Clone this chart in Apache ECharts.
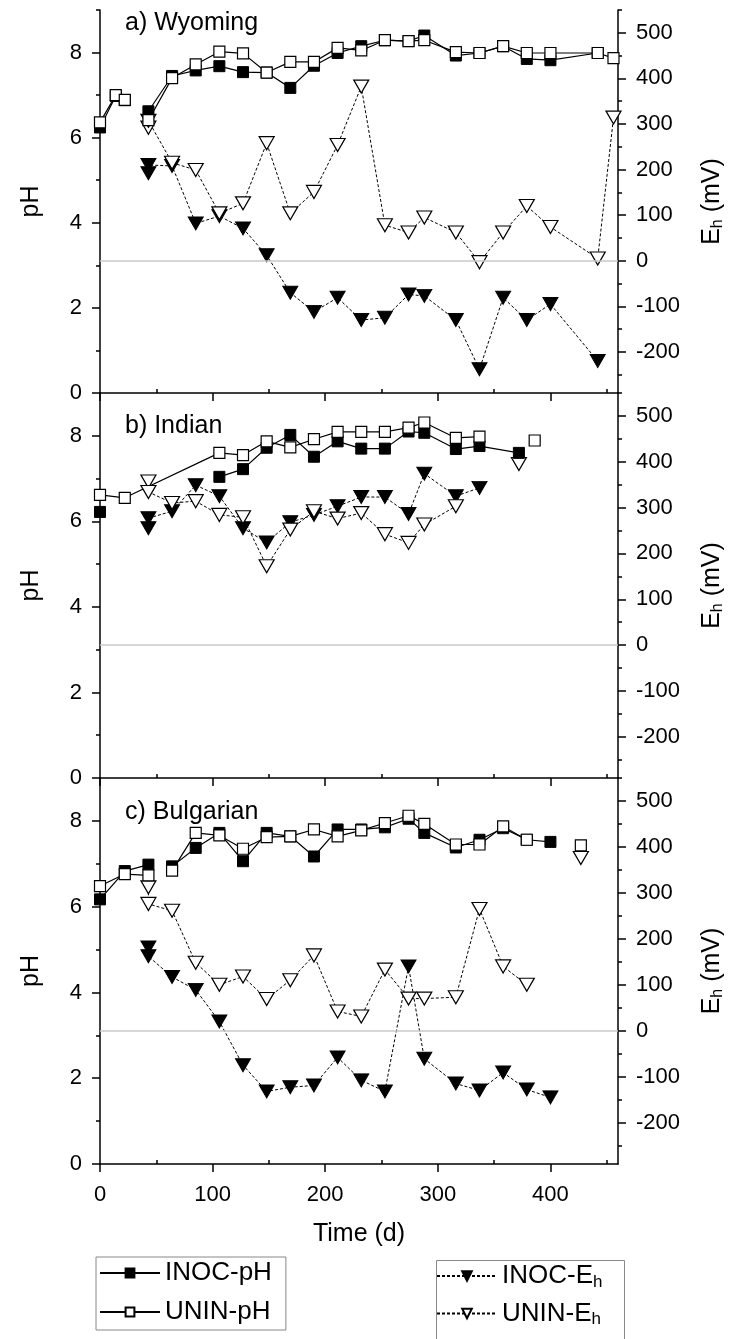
<!DOCTYPE html>
<html>
<head>
<meta charset="utf-8">
<title>pH and Eh</title>
<script src="https://cdn.jsdelivr.net/npm/echarts@6/dist/echarts.min.js"></script>
<style>
  body { margin: 0; padding: 0; background: #fff; }
  #main { width: 734px; height: 1339px; }
</style>
</head>
<body>
<div id="main"></div>
<script>
// ---- data (day, value); null day = break in the line ----
// a) Wyoming
var wyPhDays   = [0, 14, 22, null, 43, 64, 85, 106, 127, 148, 169, 190, 211, 232, 253, 274, 288, 316, 337, 358, 379, 400, 442, 456];
var wyInocPh   = [6.24, 6.98, 6.88, null, 6.62, 7.45, 7.58, 7.68, 7.54, 7.53, 7.17, 7.69, 7.99, 8.15, 8.29, 8.27, 8.40, 7.93, 7.99, 8.15, 7.85, 7.82, 7.99, null];
var wyUninPh   = [6.36, 7.00, 6.89, null, 6.41, 7.40, 7.72, 8.02, 7.98, 7.53, 7.78, 7.78, 8.11, 8.05, 8.29, 8.27, 8.29, 8.01, 7.99, 8.15, 7.99, 7.99, 7.99, 7.87];
var wyEhDays   = [43, 43, 64, 85, 106, 127, 148, 169, 190, 211, 232, 253, 274, 288, 316, 337, 358, 379, 400, 442, 456];
var wyInocEh   = [192, 210, 208, 82, 98, 71, 12, -70, -112, -81, -130, -125, -74, -77, -130, -238, -81, -130, -95, -220, null];
var wyUninEh   = [292, 307, 215, 199, 104, 126, 258, 104, 151, 254, 382, 78, 62, 95, 62, -3, 62, 120, 74, 5, 314];

// b) Indian
var inPhDays   = [0, 22, 106, 127, 148, 169, 190, 211, 232, 253, 274, 288, 316, 337, 372, 386];
var inInocPh   = [6.22, null, 7.04, 7.22, 7.72, 8.02, 7.51, 7.87, 7.70, 7.70, 8.10, 8.07, 7.69, 7.76, 7.60, null];
var inUninPh   = [6.62, 6.55, 7.60, 7.55, 7.87, 7.73, 7.92, 8.09, 8.09, 8.09, 8.19, 8.31, 7.95, 7.98, null, 7.89];
var inEhDays   = [43, 43, 64, 85, 106, 127, 148, 169, 190, 211, 232, 253, 274, 288, 316, 337, 372];
var inInocEh   = [255, 277, 292, 349, 325, 255, 224, 268, 284, 303, 323, 323, 286, 374, 325, 343, null];
var inUninEh   = [357, 334, 310, 314, 284, 279, 172, 252, 292, 276, 288, 242, 223, 263, 303, null, 395];

// c) Bulgarian
var bgPhDays   = [0, 22, 43, null, 64, 85, 106, 127, 148, 169, 190, 211, 232, 253, 274, 288, 316, 337, 358, 379, 400, 427];
var bgInocPh   = [6.17, 6.83, 6.98, null, 6.94, 7.37, 7.72, 7.06, 7.72, 7.64, 7.17, 7.80, 7.80, 7.85, 8.05, 7.72, 7.38, 7.56, 7.83, 7.56, 7.51, null];
var bgUninPh   = [6.48, 6.76, 6.73, null, 6.84, 7.72, 7.66, 7.35, 7.62, 7.64, 7.80, 7.64, 7.78, 7.95, 8.12, 7.93, 7.45, 7.45, 7.87, 7.56, null, 7.43];
var bgEhDays   = [43, 43, 64, 85, 106, 127, 148, 169, 190, 211, 232, 253, 274, 288, 316, 337, 358, 379, 400, 427];
var bgInocEh   = [181, 162, 117, 89, 20, -75, -132, -123, -119, -58, -108, -132, 140, -61, -115, -130, -91, -128, -145, null];
var bgUninEh   = [312, 276, 261, 148, 100, 118, 69, 110, 164, 42, 31, 133, 70, 70, 73, 265, 140, 100, null, 376];

var panelNames = ['a) Wyoming', 'b) Indian', 'c) Bulgarian'];
var phTicks = [0, 2, 4, 6, 8];
var phMinor = [1, 3, 5, 7, 9];
var ehTicks = [-200, -100, 0, 100, 200, 300, 400, 500];
var ehMinor = [-250, -150, -50, 50, 150, 250, 350, 450, 550];
var timeTicks = [0, 100, 200, 300, 400];
var timeMinor = [50, 150, 250, 350, 450];

var panels = [
  { ph: [wyPhDays, wyInocPh, wyUninPh], eh: [wyEhDays, wyInocEh, wyUninEh] },
  { ph: [inPhDays, inInocPh, inUninPh], eh: [inEhDays, inInocEh, inUninEh] },
  { ph: [bgPhDays, bgInocPh, bgUninPh], eh: [bgEhDays, bgInocEh, bgUninEh] }
];

function pts(days, vals) {
  return days.map(function (d, i) {
    if (d === null || vals[i] === null) return [d === null ? '-' : d, '-'];
    return [d, vals[i]];
  });
}

var FONT = '"Liberation Sans", Arial, sans-serif';
var gridTops = [10, 393, 778];
var gridHeights = [383, 385, 386];
var titleTops = [6, 409, 795];

var grids = [], xAxes = [], yAxes = [], series = [], titles = [];
var ink = { color: '#000', width: 1.5 };

for (var g = 0; g < 3; g++) {
  grids.push({ left: 100, right: 116, top: gridTops[g], height: gridHeights[g] });
  titles.push({ text: panelNames[g], left: 120, top: titleTops[g],
    textStyle: { fontFamily: FONT, fontSize: 25, fontWeight: 'normal', color: '#000' } });

  var last = g === 2;
  xAxes.push({
    gridIndex: g, type: 'value', min: 0, max: 460,
    axisLine: { lineStyle: ink },
    axisTick: { customValues: timeTicks, length: 8, lineStyle: ink },
    axisLabel: { show: last, customValues: timeTicks, fontSize: 22, fontFamily: FONT, color: '#000', margin: 20 },
    splitLine: { show: false },
    name: last ? 'Time (d)' : '', nameLocation: 'middle', nameGap: 58,
    nameTextStyle: { fontSize: 25, fontFamily: FONT, color: '#000' }
  });
  xAxes.push({
    gridIndex: g, type: 'value', min: 0, max: 460,
    axisLine: { show: false },
    axisTick: { customValues: timeMinor, length: 4, lineStyle: ink },
    axisLabel: { show: false }, splitLine: { show: false }
  });

  yAxes.push({
    gridIndex: g, type: 'value', position: 'left', min: 0, max: 9,
    axisLine: { show: true, lineStyle: ink },
    axisTick: { customValues: phTicks, length: 8, lineStyle: ink },
    axisLabel: { customValues: phTicks, fontSize: 22, fontFamily: FONT, color: '#000', margin: 18 },
    splitLine: { show: false },
    name: 'pH', nameLocation: 'middle', nameGap: 56,
    nameTextStyle: { fontSize: 25, fontFamily: FONT, color: '#000' }
  });
  yAxes.push({
    gridIndex: g, type: 'value', position: 'left', min: 0, max: 9,
    axisLine: { show: false },
    axisTick: { customValues: phMinor, length: 4, lineStyle: ink },
    axisLabel: { show: false }, splitLine: { show: false }
  });
  yAxes.push({
    gridIndex: g, type: 'value', position: 'right', min: -290, max: 550,
    axisLine: { show: true, lineStyle: ink },
    axisTick: { customValues: ehTicks, length: 8, lineStyle: ink },
    axisLabel: { customValues: ehTicks, fontSize: 22, fontFamily: FONT, color: '#000', margin: 18 },
    splitLine: { show: false },
    name: '{t|E}{s|h}{t| (mV)}', nameLocation: 'middle', nameGap: 80,
    nameTextStyle: { fontFamily: FONT, color: '#000',
      rich: { t: { fontSize: 25, fontFamily: FONT }, s: { fontSize: 16, fontFamily: FONT, padding: [12, 0, 0, 0] } } }
  });
  yAxes.push({
    gridIndex: g, type: 'value', position: 'right', min: -290, max: 550,
    axisLine: { show: false },
    axisTick: { customValues: ehMinor, length: 4, lineStyle: ink },
    axisLabel: { show: false }, splitLine: { show: false }
  });

  var p = panels[g];
  var base = {
    type: 'line', xAxisIndex: 2 * g, animation: false,
    connectNulls: false
  };
  series.push(Object.assign({}, base, {
    name: 'INOC-Eh', yAxisIndex: 4 * g + 2, data: pts(p.eh[0], p.eh[1]),
    symbol: 'triangle', symbolRotate: 180, symbolSize: [15, 13],
    itemStyle: { color: '#000', borderColor: '#000', borderWidth: 1 },
    lineStyle: { color: '#000', width: 1, type: [3, 2] },
    markLine: { silent: true, symbol: 'none', label: { show: false },
      lineStyle: { color: '#c8c8c8', type: 'solid', width: 1.5 },
      data: [{ yAxis: 0 }] }
  }));
  series.push(Object.assign({}, base, {
    name: 'UNIN-Eh', yAxisIndex: 4 * g + 2, data: pts(p.eh[0], p.eh[2]),
    symbol: 'triangle', symbolRotate: 180, symbolSize: [15, 13],
    itemStyle: { color: '#fff', borderColor: '#000', borderWidth: 1.2 },
    lineStyle: { color: '#000', width: 1, type: [3, 2] }
  }));
  series.push(Object.assign({}, base, {
    name: 'INOC-pH', yAxisIndex: 4 * g, data: pts(p.ph[0], p.ph[1]),
    symbol: 'rect', symbolSize: 11,
    itemStyle: { color: '#000', borderColor: '#000', borderWidth: 1 },
    lineStyle: { color: '#000', width: 1.2 }
  }));
  series.push(Object.assign({}, base, {
    name: 'UNIN-pH', yAxisIndex: 4 * g, data: pts(p.ph[0], p.ph[2]),
    symbol: 'rect', symbolSize: 11,
    itemStyle: { color: '#fff', borderColor: '#000', borderWidth: 1.2 },
    lineStyle: { color: '#000', width: 1.2 }
  }));
}

var legendText = {
  fontFamily: FONT, color: '#000',
  rich: { t: { fontSize: 26, fontFamily: FONT }, s: { fontSize: 17, fontFamily: FONT, padding: [12, 0, 0, 0] } }
};
function legendFmt(name) {
  if (name.slice(-2) === 'Eh') return '{t|' + name.slice(0, -1) + '}{s|h}';
  return '{t|' + name + '}';
}

var chart = echarts.init(document.getElementById('main'));
chart.setOption({
  backgroundColor: '#fff',
  animation: false,
  title: titles,
  grid: grids,
  xAxis: xAxes,
  yAxis: yAxes,
  graphic: [
    // second legend box runs off the bottom edge, as in the figure
    { type: 'rect', left: 434, top: 1258, shape: { width: 188, height: 110 },
      style: { fill: 'none', stroke: '#888', lineWidth: 1 }, silent: true }
  ],
  legend: [
    { data: ['INOC-pH', 'UNIN-pH'], orient: 'vertical', left: 96, top: 1257,
      itemWidth: 60, itemHeight: 11, itemGap: 13, padding: [3, 14, 5, 3],
      borderColor: '#888', borderWidth: 1, selectedMode: false,
      formatter: legendFmt, textStyle: legendText },
    { data: ['INOC-Eh', 'UNIN-Eh'], orient: 'vertical', left: 436, top: 1263,
      height: 90, itemWidth: 60, itemHeight: 12, itemGap: 10, padding: 0,
      selectedMode: false, formatter: legendFmt, textStyle: legendText }
  ],
  series: series
});
</script>
</body>
</html>
